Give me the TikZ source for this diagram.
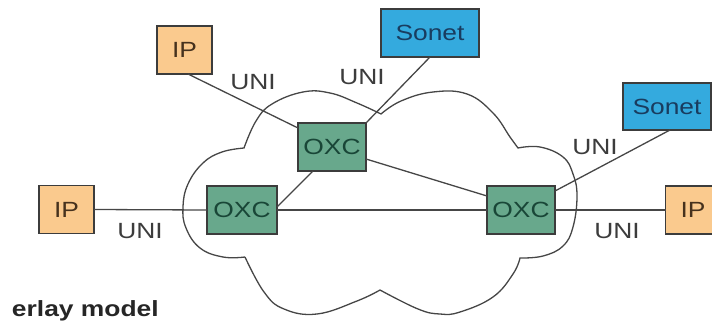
\documentclass[tikz,border=0pt]{standalone}
\usepackage{fontspec}
\setmainfont{Liberation Sans}
\definecolor{ipfill}{RGB}{250,202,142}
\definecolor{sonetfill}{RGB}{52,170,222}
\definecolor{oxcfill}{RGB}{104,168,140}
\definecolor{boxline}{RGB}{60,60,60}
\definecolor{linkline}{RGB}{70,70,70}
\definecolor{oxctext}{RGB}{25,70,55}
\definecolor{sonettext}{RGB}{25,60,95}
\definecolor{iptext}{RGB}{70,50,30}
\definecolor{unitext}{RGB}{60,60,60}
\newcommand{\hstr}[1]{\scalebox{1.2}[1]{#1}}
\begin{document}
\begin{tikzpicture}[x=1pt,y=-1pt,
  every node/.style={inner sep=0pt, outer sep=0pt},
  boxbase/.style={draw=boxline, line width=1.4pt, font=\fontsize{22}{24}\selectfont},
  ipbox/.style={boxbase, fill=ipfill, text=iptext, minimum width=55pt, minimum height=48pt},
  sonetbox/.style={boxbase, fill=sonetfill, text=sonettext, minimum height=48pt},
  oxcbox/.style={boxbase, fill=oxcfill, text=oxctext, minimum width=68pt, minimum height=48pt},
  unilabel/.style={text=unitext, font=\fontsize{22}{24}\selectfont},
  link/.style={draw=linkline, line width=1.3pt},
  cloudline/.style={draw=linkline, line width=1.3pt}
]
\useasboundingbox (0,0) rectangle (712,324);
\clip (0,0) rectangle (712,324);

% cloud
\draw[cloudline]
  plot[smooth, tension=0.7] coordinates {(245,257) (223,257) (200,248) (186,228) (183,207) (188,184) (203,163) (222,152) (244,148)}
  -- plot[smooth, tension=0.7] coordinates {(244,148) (256,121) (272,104) (303,92) (330,93) (357,103) (381,114)}
  -- plot[smooth, tension=0.7] coordinates {(381,114) (401,101) (433,92) (467,94) (493,113) (510,137) (518,148)}
  -- plot[smooth, tension=0.7] coordinates {(518,148) (540,147) (563,157) (573,174) (577,196) (573,227) (563,246) (543,256) (520,258)}
  -- plot[smooth, tension=0.7] coordinates {(520,258) (513,274) (493,297) (460,312) (440,314) (418,309) (380,290)}
  -- plot[smooth, tension=0.7] coordinates {(380,290) (357,301) (317,314) (284,309) (264,292) (245,257)};

% nodes
\node[ipbox] (ipa) at (184.5,50) {\hstr{IP}};
\node[sonetbox, minimum width=98pt] (sona) at (430,33) {\hstr{Sonet}};
\node[sonetbox, minimum width=88pt, minimum height=47pt] (sonb) at (667,106.5) {\hstr{Sonet}};
\node[oxcbox] (oxct) at (332,147) {\hstr{OXC}};
\node[oxcbox, minimum width=70pt] (oxcl) at (242,210) {\hstr{OXC}};
\node[oxcbox] (oxcr) at (521,210) {\hstr{OXC}};
\node[ipbox] (ipl) at (66.5,209.5) {\hstr{IP}};
\node[ipbox] (ipr) at (693,210) {\hstr{IP}};

% links
\begin{scope}[on background layer/.try]
\end{scope}
\draw[link] ([xshift=3.5pt]ipa.south) -- ([yshift=-5pt]oxct.north west);
\draw[link] (sona.south) -- (oxct.north east);
\draw[link] ([xshift=15pt]oxct.south west) -- ([yshift=3pt]oxcl.east);
\draw[link] ([yshift=-12pt]oxct.east) -- ([yshift=14pt]oxcr.west);
\draw[link] (oxcl.east) -- (oxcr.west);
\draw[link] (ipl.east) -- (oxcl.west);
\draw[link] (oxcr.east) -- (ipr.west);
\draw[link] ([yshift=19pt]oxcr.east) -- ([xshift=3pt]sonb.south);

% labels
\node[unilabel] (u1) at (253,82) {\hstr{UNI}};
\node[unilabel] (u2) at (362,77) {\hstr{UNI}};
\node[unilabel] (u3) at (595,147) {\hstr{UNI}};
\node[unilabel] (u4) at (140,231) {\hstr{UNI}};
\node[unilabel] (u5) at (617,231) {\hstr{UNI}};

\node[anchor=base west, text=black!85, font=\bfseries\fontsize{22}{24}\selectfont] (cap) at (12,316) {\hstr{erlay model}};
\end{tikzpicture}
\end{document}
